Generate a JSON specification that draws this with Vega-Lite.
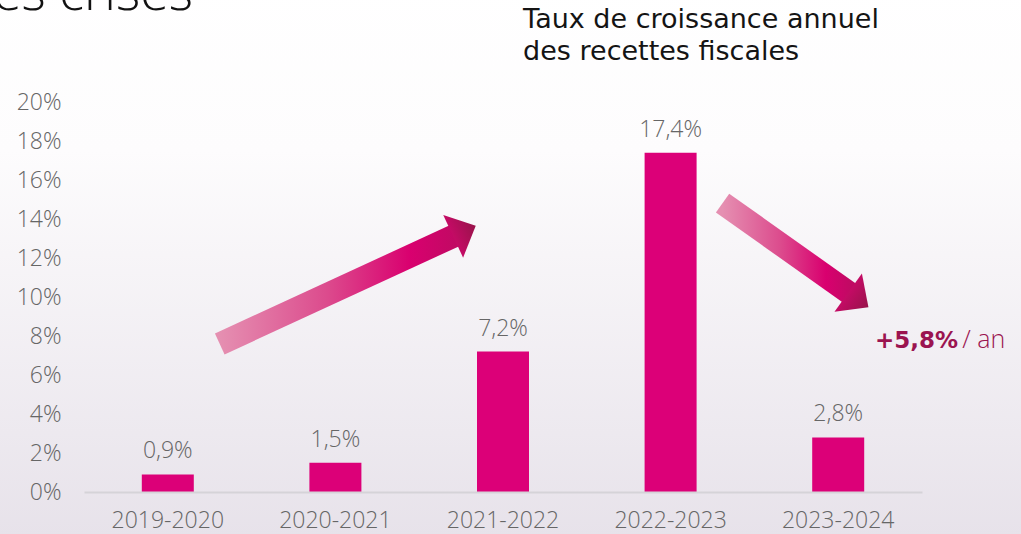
{
  "$schema": "https://vega.github.io/schema/vega-lite/v6.json",
  "width": 838,
  "height": 390,
  "autosize": {"type": "none"},
  "padding": {"left": 84, "top": 102, "right": 99, "bottom": 42},
  "background": "#ffffff",
  "config": {
    "locale": {"number": {"decimal": ",", "thousands": " ", "grouping": [3], "currency": ["", " €"]}},
    "view": {"stroke": null},
    "font": "Open Sans"
  },
  "encoding": {
    "y": {
      "field": "y",
      "type": "quantitative",
      "scale": {"domain": [0, 0.2], "nice": false, "zero": false},
      "axis": {
        "title": null,
        "format": ".0%",
        "values": [0, 0.02, 0.04, 0.06, 0.08, 0.1, 0.12, 0.14, 0.16, 0.18, 0.2],
        "domain": false,
        "ticks": false,
        "grid": false,
        "labelFontSize": 23,
        "labelColor": "#666666",
        "labelPadding": 23,
        "labelFont": "Open Sans",
        "labelFontWeight": 300,
        "zindex": 1
      }
    }
  },
  "resolve": {"scale": {"x": "independent"}, "axis": {"x": "independent"}},
  "layer": [
    {
      "data": {"values": [{"x": -0.51, "x2": 5.6, "y": -0.023, "y2": 0.26}]},
      "mark": {
        "type": "rect",
        "clip": false,
        "fill": {
          "gradient": "linear", "x1": 0, "y1": 0, "x2": 0, "y2": 1,
          "stops": [
            {"offset": 0, "color": "#ffffff"},
            {"offset": 0.3, "color": "#fdfcfd"},
            {"offset": 1, "color": "#e7e2ea"}
          ]
        }
      },
      "encoding": {
        "x": {"field": "x", "type": "quantitative", "scale": {"domain": [0, 5], "nice": false, "zero": false}, "axis": null},
        "x2": {"field": "x2"},
        "y2": {"field": "y2"}
      }
    },
    {
      "data": {"name": "bars", "values": [
        {"period": "2019-2020", "y": 0.009},
        {"period": "2020-2021", "y": 0.015},
        {"period": "2021-2022", "y": 0.072},
        {"period": "2022-2023", "y": 0.174},
        {"period": "2023-2024", "y": 0.028}
      ]},
      "mark": {"type": "bar", "color": "#dc0078", "width": 52},
      "encoding": {
        "x": {
          "field": "period", "type": "nominal", "sort": null,
          "scale": {"paddingInner": 0, "paddingOuter": 0},
          "axis": {
            "title": null,
            "domain": true,
            "domainColor": "#d5d3d8",
            "domainWidth": 2,
            "ticks": false,
            "labelAngle": 0,
            "labelFontSize": 23,
            "labelColor": "#666666",
            "labelPadding": 17,
            "labelFont": "Open Sans",
            "labelFontWeight": 300,
            "zindex": 1
          }
        }
      }
    },
    {
      "data": {"name": "bars"},
      "mark": {"type": "text", "dy": -16, "baseline": "alphabetic", "fontSize": 23, "color": "#666666", "font": "Open Sans", "fontWeight": 300},
      "encoding": {
        "x": {"field": "period", "type": "nominal", "sort": null, "scale": {"paddingInner": 0, "paddingOuter": 0}, "axis": null},
        "text": {"field": "y", "type": "quantitative", "format": ".1%"}
      }
    },
    {
      "data": {"values": [
        {"x": 0.81, "y": 0.0759, "x2": 2.23, "y2": 0.1322},
        {"x": 3.81, "y": 0.1482, "x2": 4.58, "y2": 0.1012}
      ]},
      "mark": {
        "type": "rule",
        "clip": false,
        "strokeWidth": 23,
        "strokeCap": "butt",
        "stroke": {
          "gradient": "linear", "x1": 0, "y1": 0, "x2": 1, "y2": 0,
          "stops": [
            {"offset": 0, "color": "#e58fb1"},
            {"offset": 0.45, "color": "#dc4b8d"},
            {"offset": 0.8, "color": "#d9006f"},
            {"offset": 1, "color": "#c00a63"}
          ]
        }
      },
      "encoding": {
        "x": {"field": "x", "type": "quantitative", "scale": {"domain": [0, 5], "nice": false, "zero": false}, "axis": null},
        "x2": {"field": "x2"},
        "y2": {"field": "y2"}
      }
    },
    {
      "data": {"values": [
        {"x": 2.27, "y": 0.1338, "angle": -25},
        {"x": 4.62, "y": 0.0985, "angle": 35.7}
      ]},
      "mark": {
        "type": "point",
        "clip": false,
        "filled": true,
        "opacity": 1,
        "strokeWidth": 0,
        "shape": "M0.53,0L-0.53,-1L-0.53,1Z",
        "size": 2209,
        "fill": {
          "gradient": "linear", "x1": 0, "y1": 0, "x2": 1, "y2": 0,
          "stops": [
            {"offset": 0, "color": "#c40b65"},
            {"offset": 1, "color": "#98134a"}
          ]
        }
      },
      "encoding": {
        "x": {"field": "x", "type": "quantitative", "scale": {"domain": [0, 5], "nice": false, "zero": false}, "axis": null},
        "angle": {"field": "angle", "type": "quantitative", "scale": null}
      }
    },
    {
      "data": {"values": [
        {"x": 4.72, "y": 0.0738, "label": "+5,8%"}
      ]},
      "mark": {"type": "text", "clip": false, "align": "left", "baseline": "alphabetic", "fontSize": 23, "font": "DejaVu Sans", "fontWeight": 600, "color": "#9b1450"},
      "encoding": {
        "x": {"field": "x", "type": "quantitative", "scale": {"domain": [0, 5], "nice": false, "zero": false}, "axis": null},
        "text": {"field": "label"}
      }
    },
    {
      "data": {"values": [
        {"x": 5.24, "y": 0.0738, "label": "/ an"}
      ]},
      "mark": {"type": "text", "clip": false, "align": "left", "baseline": "alphabetic", "fontSize": 25, "font": "Open Sans", "fontWeight": 300, "color": "#9b1450"},
      "encoding": {
        "x": {"field": "x", "type": "quantitative", "scale": {"domain": [0, 5], "nice": false, "zero": false}, "axis": null},
        "text": {"field": "label"}
      }
    },
    {
      "data": {"values": [
        {"x": 2.62, "y": 0.238, "label": "Taux de croissance annuel"},
        {"x": 2.62, "y": 0.2215, "label": "des recettes fiscales"}
      ]},
      "mark": {"type": "text", "clip": false, "align": "left", "baseline": "alphabetic", "fontSize": 27, "font": "DejaVu Sans", "fontWeight": "normal", "color": "#141414"},
      "encoding": {
        "x": {"field": "x", "type": "quantitative", "scale": {"domain": [0, 5], "nice": false, "zero": false}, "axis": null},
        "text": {"field": "label"}
      }
    },
    {
      "data": {"values": [
        {"x": 0.65, "y": 0.247, "label": "es crises"}
      ]},
      "mark": {"type": "text", "clip": false, "align": "right", "baseline": "alphabetic", "fontSize": 52, "font": "Open Sans", "fontWeight": 300, "color": "#111111"},
      "encoding": {
        "x": {"field": "x", "type": "quantitative", "scale": {"domain": [0, 5], "nice": false, "zero": false}, "axis": null},
        "text": {"field": "label"}
      }
    }
  ]
}
